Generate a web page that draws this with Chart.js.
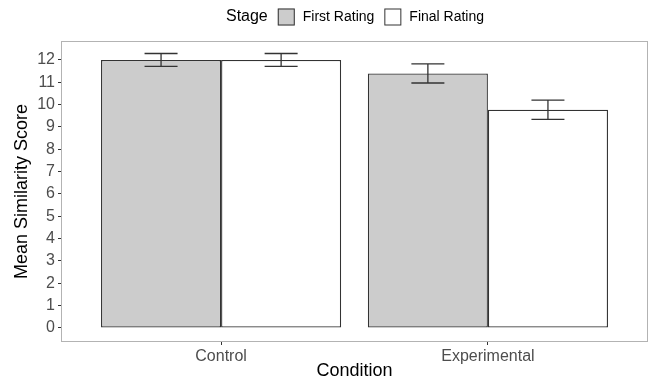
<!DOCTYPE html>
<html>
<head>
<meta charset="utf-8">
<script src="https://cdn.jsdelivr.net/npm/chart.js@4.4.1/dist/chart.umd.min.js"></script>
<style>
  html, body { margin: 0; padding: 0; background: #fff; }
  #wrap { width: 649px; height: 382px; }
</style>
</head>
<body>
<div id="wrap"><canvas id="chart"></canvas></div>
<script>
var conditions = ['Control', 'Experimental'];
var conditionPos = [1, 2];
var firstRating = [12.0, 11.4];
var firstRatingSe = [0.29, 0.43];
var finalRating = [12.0, 9.77];
var finalRatingSe = [0.29, 0.43];
var yTicks = [0, 1, 2, 3, 4, 5, 6, 7, 8, 9, 10, 11, 12];
var legendTitle = 'Stage';

var FONT = '"Liberation Sans", Arial, sans-serif';

function points(vals) {
    return conditionPos.map(function (x, i) { return { x: x, y: vals[i] }; });
}

// error bars, panel border and the ggplot-style legend
var extras = {
    id: 'extras',
    afterDatasetsDraw: function (chart) {
        var ctx = chart.ctx;
        var ys = chart.scales.y;
        ctx.save();
        ctx.strokeStyle = '#333333';
        ctx.lineWidth = 1.3;
        chart.data.datasets.forEach(function (ds, d) {
            var meta = chart.getDatasetMeta(d);
            meta.data.forEach(function (bar, j) {
                var m = ds.data[j].y, se = ds.errors[j];
                var top = ys.getPixelForValue(m + se);
                var bot = ys.getPixelForValue(m - se);
                var x = bar.x, h = 16.5;
                ctx.beginPath();
                ctx.moveTo(x, top); ctx.lineTo(x, bot);
                ctx.moveTo(x - h, top); ctx.lineTo(x + h, top);
                ctx.moveTo(x - h, bot); ctx.lineTo(x + h, bot);
                ctx.stroke();
            });
        });
        var a = chart.chartArea;
        ctx.strokeStyle = '#b3b3b3';
        ctx.lineWidth = 1;
        ctx.strokeRect(a.left + 0.5, a.top + 0.5, a.right - a.left - 1, a.bottom - a.top - 1);
        ctx.restore();
    },
    afterDraw: function (chart) {
        var ctx = chart.ctx;
        var cy = 17, box = 17;
        ctx.save();
        ctx.textBaseline = 'middle';
        ctx.font = '16px ' + FONT;
        var wTitle = ctx.measureText(legendTitle).width;
        ctx.font = '14px ' + FONT;
        var items = chart.data.datasets.map(function (ds) {
            return { label: ds.label, fill: ds.backgroundColor, w: ctx.measureText(ds.label).width };
        });
        var total = wTitle + 10;
        items.forEach(function (it, i) { total += box + 8 + it.w + (i < items.length - 1 ? 10 : 0); });
        var x = 355 - total / 2;
        ctx.fillStyle = '#000';
        ctx.font = '16px ' + FONT;
        ctx.fillText(legendTitle, x, cy);
        x += wTitle + 10;
        ctx.font = '14px ' + FONT;
        items.forEach(function (it) {
            ctx.fillStyle = it.fill;
            ctx.fillRect(x, cy - box / 2, box, box);
            ctx.strokeStyle = '#333333';
            ctx.lineWidth = 1;
            ctx.strokeRect(x + 0.5, cy - box / 2 + 0.5, box - 1, box - 1);
            x += box + 8;
            ctx.fillStyle = '#000';
            ctx.fillText(it.label, x, cy);
            x += it.w + 10;
        });
        ctx.restore();
    }
};

new Chart(document.getElementById('chart'), {
    type: 'bar',
    data: {
        datasets: [
            {
                label: 'First Rating',
                data: points(firstRating),
                errors: firstRatingSe,
                backgroundColor: '#cccccc',
                borderColor: '#333333',
                borderWidth: 1.3,
                borderSkipped: false,
                barPercentage: 1,
                categoryPercentage: 0.9
            },
            {
                label: 'Final Rating',
                data: points(finalRating),
                errors: finalRatingSe,
                backgroundColor: '#ffffff',
                borderColor: '#333333',
                borderWidth: 1.3,
                borderSkipped: false,
                barPercentage: 1,
                categoryPercentage: 0.9
            }
        ]
    },
    options: {
        responsive: true,
        maintainAspectRatio: false,
        animation: false,
        devicePixelRatio: 1,
        layout: { padding: { top: 41, right: 1, left: 0, bottom: 0 } },
        plugins: { legend: { display: false }, tooltip: { enabled: false } },
        scales: {
            x: {
                type: 'linear',
                min: 0.4,
                max: 2.6,
                offset: false,
                afterBuildTicks: function (s) { s.ticks = conditionPos.map(function (v) { return { value: v }; }); },
                afterFit: function (s) { s.height = 40; },
                ticks: {
                    autoSkip: false,
                    maxRotation: 0,
                    padding: 2,
                    color: '#4d4d4d',
                    font: { family: FONT, size: 16 },
                    callback: function (v) { return conditions[conditionPos.indexOf(v)]; }
                },
                grid: { drawOnChartArea: false, offset: false, tickLength: 3, color: '#333333' },
                border: { display: false },
                title: { display: true, text: 'Condition', color: '#000', padding: 0, font: { family: FONT, size: 18 } }
            },
            y: {
                min: -0.63,
                max: 12.85,
                afterBuildTicks: function (s) { s.ticks = yTicks.map(function (v) { return { value: v }; }); },
                afterFit: function (s) { s.width = 61; },
                ticks: { padding: 3, color: '#4d4d4d', font: { family: FONT, size: 16 } },
                grid: { drawOnChartArea: false, tickLength: 3, color: '#333333' },
                border: { display: false },
                title: { display: true, text: 'Mean Similarity Score', color: '#000', padding: { top: 11, bottom: 0 }, font: { family: FONT, size: 18 } }
            }
        }
    },
    plugins: [extras]
});
</script>
</body>
</html>
